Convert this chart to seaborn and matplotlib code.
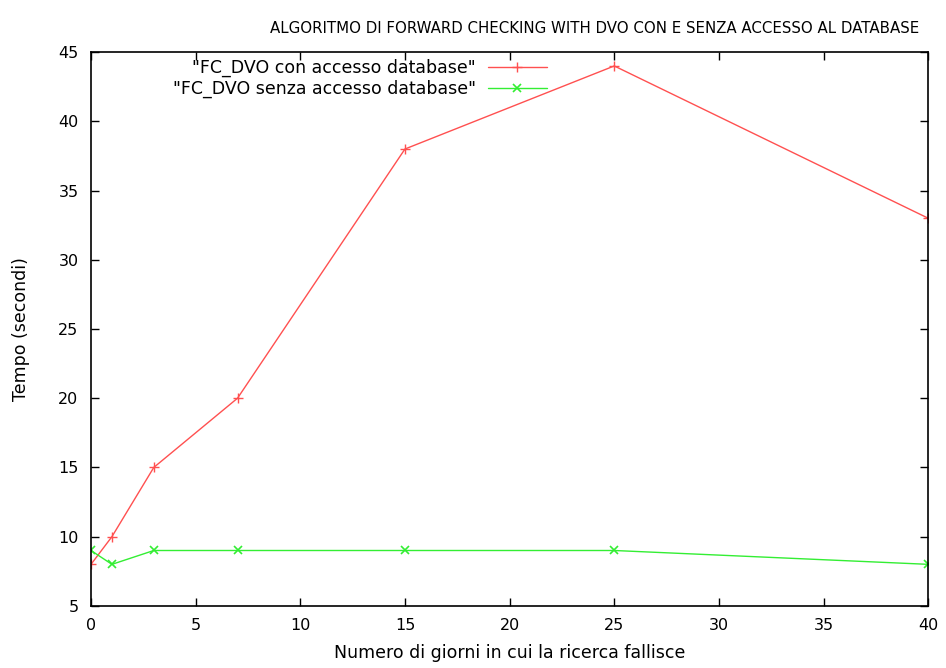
import matplotlib
matplotlib.use("Agg")
import matplotlib.pyplot as plt
import seaborn as sns

# data
giorni = [0, 1, 3, 7, 15, 25, 40]
con_db = [8, 10, 15, 20, 38, 44, 33]
senza_db = [9, 8, 9, 9, 9, 9, 8]
label_con = '"FC_DVO con accesso database"'
label_senza = '"FC_DVO senza accesso database"'
red = "#ff5050"
green = "#33ee33"

sns.set_style("ticks", {"text.color": "black", "axes.labelcolor": "black",
                        "xtick.color": "black", "ytick.color": "black",
                        "axes.edgecolor": "black"})
plt.rcParams["font.family"] = ["DejaVu Sans"]

fig = plt.figure(figsize=(9.46, 6.68), dpi=100)
ax = fig.add_axes([0.0962, 0.093, 0.885, 0.829])

sns.lineplot(x=giorni, y=con_db, color=red, marker="+", markersize=7,
             mec=red, mew=1.0, linewidth=1.0, label=label_con, ax=ax)
sns.lineplot(x=giorni, y=senza_db, color=green, marker="x", markersize=6,
             mec=green, mew=1.2, linewidth=1.0, label=label_senza, ax=ax)

ax.set_xlim(0, 40)
ax.set_ylim(5, 45)
ax.set_xticks(range(0, 41, 5))
ax.set_yticks(range(5, 46, 5))
ax.tick_params(direction="in", top=True, right=True, length=6, width=1, labelsize=11.5, pad=9)
for s in ax.spines.values():
    s.set_linewidth(1.2)
    s.set_visible(True)

ax.set_xlabel("Numero di giorni in cui la ricerca fallisce", fontsize=12.5, labelpad=8)
ax.set_ylabel("Tempo (secondi)", fontsize=12.5, labelpad=20)
fig.text(0.629, 0.958, "ALGORITMO DI FORWARD CHECKING WITH DVO CON E SENZA ACCESSO AL DATABASE",
         ha="center", va="center", fontsize=10.8)

leg = ax.legend(loc="upper right", bbox_to_anchor=(0.559, 1.01), frameon=False,
                markerfirst=False, handlelength=3.4, fontsize=12.5,
                labelspacing=0.15, borderaxespad=0.3, handletextpad=0.7)

fig.savefig("out.png", dpi=100)
